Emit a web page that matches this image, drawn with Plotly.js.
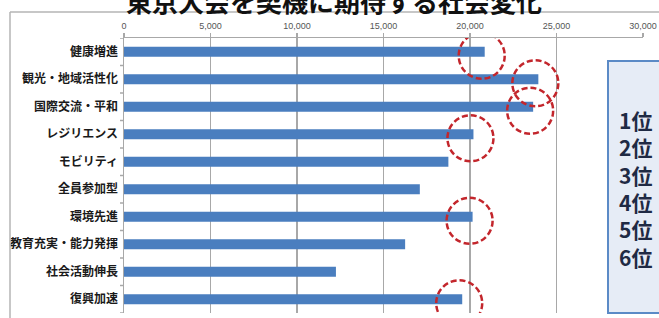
<!DOCTYPE html>
<html>
<head>
<meta charset="utf-8">
<script src="https://cdn.plot.ly/plotly-3.0.1.min.js"></script>
<style>html,body{margin:0;padding:0;background:#fff;overflow:hidden}#chart{width:659px;height:318px}</style>
</head>
<body>
<div id="chart"></div>
<script>
const titleText = '東京大会を契機に期待する社会変化';
const categories = ['健康増進','観光・地域活性化','国際交流・平和','レジリエンス','モビリティ','全員参加型','環境先進','教育充実・能力発揮','社会活動伸長','復興加速'];
const values = [20850, 23950, 23650, 20200, 18750, 17100, 20150, 16250, 12250, 19550];
const xTickVals = [0, 5000, 10000, 15000, 20000, 25000, 30000];
const xTickText = ['0', '5,000', '10,000', '15,000', '20,000', '25,000', '30,000'];
const rankLabels = ['1位', '2位', '3位', '4位', '5位', '6位'];

const W = 659, H = 318;
const M = {l: 124, r: 16, t: 38, b: 5};
const pw = W - M.l - M.r, ph = H - M.t - M.b;
const px = X => (X - M.l) / pw;
const py = Y => (H - M.b - Y) / ph;

// top 6 bars get red dashed circles
const order = values.map((v, i) => i).sort((a, b) => values[b] - values[a]);
const top6 = order.slice(0, rankLabels.length);

const shapes = [];
// outer chart frame (top and left edges)
shapes.push({type: 'line', xref: 'paper', yref: 'paper', x0: px(10), x1: px(700), y0: py(12), y1: py(12), line: {color: '#b4b4b4', width: 1.5}});
shapes.push({type: 'line', xref: 'paper', yref: 'paper', x0: px(10), x1: px(10), y0: py(12), y1: py(330), line: {color: '#b4b4b4', width: 1.5}});
// circles
top6.forEach(i => {
  shapes.push({type: 'circle', xref: 'x', yref: 'y', xsizemode: 'pixel', ysizemode: 'pixel',
    xanchor: values[i], yanchor: i, x0: -26, x1: 20, y0: -27, y1: 19,
    line: {color: '#c3262c', width: 2.5, dash: '6px,3px'}, fillcolor: 'rgba(0,0,0,0)'});
});
// ranking text box
shapes.push({type: 'rect', xref: 'paper', yref: 'paper', x0: px(608), x1: px(700), y0: py(313), y1: py(61),
  line: {color: '#5b8ac6', width: 2}, fillcolor: '#e6ecf6', layer: 'above'});

const annotations = [];
annotations.push({xref: 'paper', yref: 'paper', x: px(334), y: py(0), xanchor: 'center', yanchor: 'middle',
  text: titleText, showarrow: false, font: {family: 'Noto Sans CJK JP', size: 26, color: '#111', weight: 'bold'}});
annotations.push({xref: 'paper', yref: 'paper', x: px(617), y: py(188), xanchor: 'left', yanchor: 'middle', align: 'left',
  text: rankLabels.join('<br>'), showarrow: false, font: {family: 'Noto Sans CJK JP', size: 21, color: '#1f2a44', weight: 'bold'}});

const trace = {
  type: 'bar', orientation: 'h',
  x: values, y: categories.map((c, i) => i),
  marker: {color: '#4a7ebf', line: {width: 0}},
  hoverinfo: 'none'
};

const layout = {
  width: W, height: H,
  margin: M,
  paper_bgcolor: '#fff', plot_bgcolor: '#fff',
  showlegend: false,
  bargap: 0.64,
  xaxis: {
    side: 'top', range: [0, 30000], tickvals: xTickVals, ticktext: xTickText,
    showgrid: true, gridcolor: '#a8a8a8', gridwidth: 1.5,
    showline: true, linecolor: '#a8a8a8', linewidth: 1.5,
    ticks: 'outside', ticklen: 4, tickcolor: '#a8a8a8', tickwidth: 1.5,
    tickfont: {family: 'Liberation Sans', size: 9, color: '#555'},
    zeroline: false, fixedrange: true
  },
  yaxis: {
    type: 'linear', autorange: false, range: [categories.length - 0.5, -0.5],
    tickvals: categories.map((c, i) => i), ticktext: categories,
    showgrid: false, showline: true, linecolor: '#a8a8a8', linewidth: 1.5,
    ticks: '', zeroline: false,
    tickfont: {family: 'Noto Sans CJK JP', size: 12, color: '#1a1a1a', weight: 'bold'},
    ticklabelstandoff: 2, fixedrange: true
  },
  shapes: shapes,
  annotations: annotations
};

// y-axis boundary tick marks
for (let i = 0; i <= categories.length; i++) {
  layout.shapes.push({type: 'line', xref: 'paper', yref: 'y', x0: px(120), x1: px(124), y0: i - 0.5, y1: i - 0.5,
    line: {color: '#a8a8a8', width: 1.5}});
}

Plotly.newPlot('chart', [trace], layout, {displayModeBar: false, staticPlot: true});
</script>
</body>
</html>
